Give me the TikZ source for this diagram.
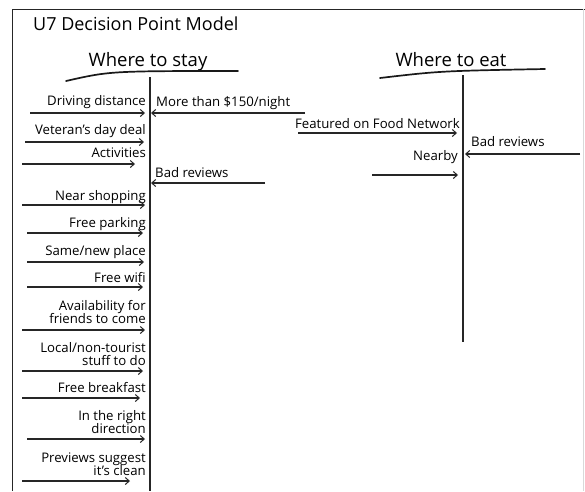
\documentclass[tikz,border=0pt]{standalone}
\usepackage{fontspec}
\setmainfont{Open Sans}
\usetikzlibrary{arrows.meta}
\newcommand{\lblfont}{\fontsize{13.2}{13.5}\selectfont}
\begin{document}
\begin{tikzpicture}[x=1pt,y=-1pt,
  frame/.style={line width=1pt,black!85},
  axis/.style={line width=1.4pt,black!85},
  uline/.style={line width=1.7pt,black!90,line cap=round},
  arr/.style={line width=1.2pt,black!85,-{Straight Barb[length=4pt,width=7pt,line width=1pt]}},
  lblL/.style={font=\lblfont,align=right,inner sep=0pt,anchor=south east},
  lblR/.style={font=\lblfont,align=left,inner sep=0pt,anchor=south west},
  head/.style={font=\fontsize{18.5}{20}\selectfont,inner sep=0pt,anchor=base}]
\useasboundingbox (0,0) rectangle (585,491);
\fill[white] (0,0) rectangle (585,491);

% outer frame
\draw[frame] (12,491) -- (12,9) -- (585,9);
\draw[line width=0.6pt,black!15] (583,9) -- (583,491);

% title and column headings
\node[font=\fontsize{18}{20}\selectfont,inner sep=0pt,anchor=base west] (title) at (33,30) {U7 Decision Point Model};
\node[head] (stay) at (148,66) {Where to stay};
\node[head] (eat) at (451,66) {Where to eat};
\draw[uline] (66,81) .. controls (110,71) .. (238,71);
\draw[uline] (380,78) .. controls (440,71) .. (545,69);

% decision axes
\coordinate (stayTop) at (150,77);
\coordinate (stayBot) at (150,491);
\coordinate (eatTop) at (463,75);
\coordinate (eatBot) at (463,342);
\draw[axis] (stayTop) -- (stayBot);
\draw[axis] (eatTop) -- (eatBot);

% ---- where to stay: factors on the left ----
\node[lblL] (s1) at (146,110) {Driving distance\strut};
\coordinate (s1a) at (30,113); \coordinate (s1b) at (145,113);
\draw[arr] (s1a) -- (s1b);

\node[lblL] (s2) at (146,139) {Veteran's day deal\strut};
\coordinate (s2a) at (25,142); \coordinate (s2b) at (144,142);
\draw[arr] (s2a) -- (s2b);

\node[lblL] (s3) at (146,162) {Activities\strut};
\coordinate (s3a) at (22,164); \coordinate (s3b) at (135,164);
\draw[arr] (s3a) -- (s3b);

\node[lblL] (s4) at (146,205) {Near shopping\strut};
\coordinate (s4a) at (22,205); \coordinate (s4b) at (145,205);
\draw[arr] (s4a) -- (s4b);

\node[lblL] (s5) at (146,232) {Free parking\strut};
\coordinate (s5a) at (27,233); \coordinate (s5b) at (143,233);
\draw[arr] (s5a) -- (s5b);

\node[lblL] (s6) at (146,260) {Same/new place\strut};
\coordinate (s6a) at (27,262); \coordinate (s6b) at (144,262);
\draw[arr] (s6a) -- (s6b);

\node[lblL] (s7) at (146,287) {Free wifi\strut};
\coordinate (s7a) at (27,287); \coordinate (s7b) at (143,287);
\draw[arr] (s7a) -- (s7b);

\node[lblL] (s8) at (146,328) {Availability for\\friends to come\strut};
\coordinate (s8a) at (22,330); \coordinate (s8b) at (145,330);
\draw[arr] (s8a) -- (s8b);

\node[lblL] (s9) at (146,370) {Local/non-tourist\\stuff to do\strut};
\coordinate (s9a) at (22,371); \coordinate (s9b) at (143,371);
\draw[arr] (s9a) -- (s9b);

\node[lblL] (s10) at (146,397) {Free breakfast\strut};
\coordinate (s10a) at (22,398); \coordinate (s10b) at (140,398);
\draw[arr] (s10a) -- (s10b);

\node[lblL] (s11) at (146,438) {In the right\\direction\strut};
\coordinate (s11a) at (27,439); \coordinate (s11b) at (145,439);
\draw[arr] (s11a) -- (s11b);

\node[lblL] (s12) at (146,480) {Previews suggest\\it's clean\strut};
\coordinate (s12a) at (22,481); \coordinate (s12b) at (130,481);
\draw[arr] (s12a) -- (s12b);

% ---- where to stay: factors on the right ----
\node[lblR] (r1) at (156,111) {More than \$150/night\strut};
\coordinate (r1a) at (305,113); \coordinate (r1b) at (151,113);
\draw[arr] (r1a) -- (r1b);

\node[lblR] (r2) at (155,182) {Bad reviews\strut};
\coordinate (r2a) at (265,183); \coordinate (r2b) at (151,183);
\draw[arr] (r2a) -- (r2b);

% ---- where to eat ----
\node[lblL] (e1) at (460,133) {Featured on Food Network\strut};
\coordinate (e1a) at (298,133); \coordinate (e1b) at (457,133);
\draw[arr] (e1a) -- (e1b);

\node[lblR] (e2) at (471,151) {Bad reviews\strut};
\coordinate (e2a) at (580,154); \coordinate (e2b) at (465,154);
\draw[arr] (e2a) -- (e2b);

\node[lblL] (e3) at (458,165) {Nearby\strut};
\coordinate (e3a) at (372,175); \coordinate (e3b) at (458,175);
\draw[arr] (e3a) -- (e3b);
\end{tikzpicture}
\end{document}
